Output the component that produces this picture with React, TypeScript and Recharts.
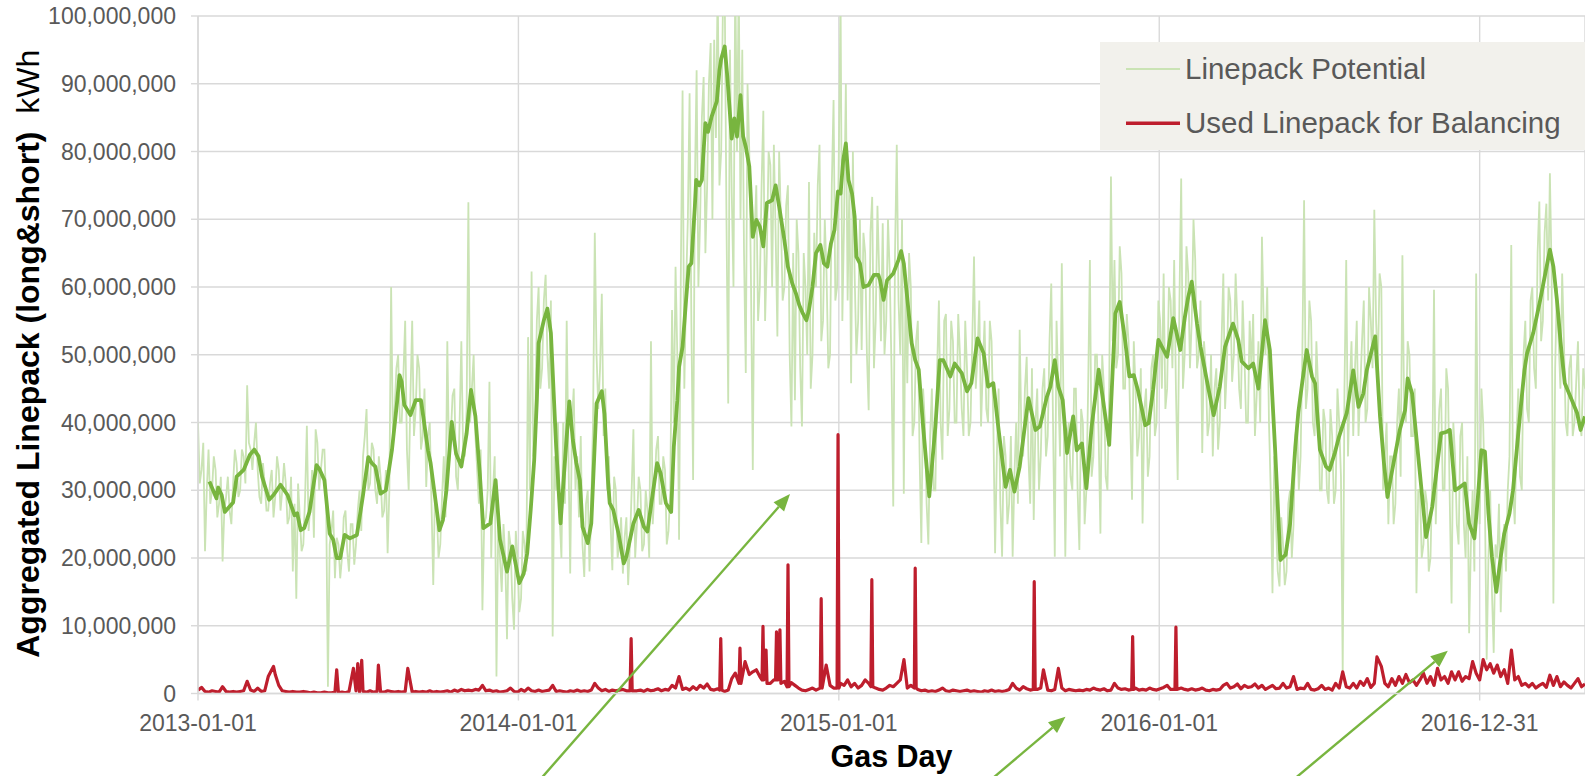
import React from 'react';
import { LineChart, Line, XAxis, YAxis, CartesianGrid, ReferenceLine } from 'recharts';

const FONT = '"Liberation Sans", Arial, Helvetica, sans-serif';

// ---------- axes ----------
const xTickDays = [0, 365, 730, 1095, 1460];
const xTickLabels = ['2013-01-01', '2014-01-01', '2015-01-01', '2016-01-01', '2016-12-31'];
const xDomainEnd = 1580;
const yTicks = [0, 10, 20, 30, 40, 50, 60, 70, 80, 90, 100];
const yMinorTicks = [0, 2, 4, 6, 8, 10, 12, 14, 16, 18, 20, 22, 24, 26, 28, 30, 32, 34, 36, 38, 40, 42, 44, 46, 48, 50, 52, 54, 56, 58, 60, 62, 64, 66, 68, 70, 72, 74, 76, 78, 80, 82, 84, 86, 88, 90, 92, 94, 96, 98, 100];

// ---------- series names ----------
const seriesNames = ['Linepack Potential', 'Used Linepack for Balancing'];

// ---------- Linepack Potential (million kWh) ----------
// gas days 0, 4, 8, ... (from 2013-01-01)
const potentialStepDays = 4;
const potentialValues = [
  40, 33, 21, 36, 30, 33, 28, 19.5, 29, 27,
  31, 34, 30, 35, 45.5, 36, 37, 33, 28, 31,
  27, 33, 29, 33, 30, 31, 26, 18, 14, 26,
  22, 39.5, 28, 23, 37, 33, 36, 1, 24, 17,
  22, 20, 27, 18, 25, 22, 30, 35, 42, 31,
  36, 28, 32, 27, 20.7, 60, 42, 50, 40, 55,
  30, 55, 42, 48, 38, 30.5, 40, 16, 27, 22,
  35, 52, 38, 45, 30, 52, 35, 72.5, 45, 38,
  28, 12.3, 26, 46, 30, 2.5, 20, 25, 8, 22,
  9.4, 20, 14, 22, 52.6, 62.3, 40, 60, 48, 61.8,
  45, 8.4, 30, 26, 40, 55, 17.7, 45, 35, 38,
  17.2, 30, 28, 68, 42, 59, 45, 35, 18.2, 30,
  22, 17.7, 26, 22, 39, 25, 30, 22, 27, 52,
  30, 38, 28, 33, 24, 56.6, 63, 22.7, 89, 60,
  88.6, 31.5, 92, 70, 91, 75, 96, 96.5, 105, 80,
  104, 42.8, 74, 106, 105, 95, 47.3, 80, 33, 75,
  60, 86, 65, 78, 81, 52.7, 70, 60, 75, 39.4,
  43.3, 65, 39.4, 60, 75.5, 50, 60, 81, 55, 62,
  50, 87.6, 60, 102, 70, 58, 45.8, 62, 55, 50.7,
  65, 41.8, 73.3, 55, 62, 69.4, 55, 62, 27.6, 81,
  50, 29.5, 45.8, 60, 40, 55, 22.2, 40, 22, 45,
  30, 58, 34.5, 56, 42, 52, 40, 50, 38, 48,
  40, 64.5, 50, 39.4, 55, 40, 52, 20.7, 45, 20.2,
  35, 28, 20.2, 40, 53.7, 35, 49.7, 28, 25.6, 45,
  35, 48, 38, 60.5, 20.2, 45, 63.5, 20.2, 40, 30,
  45, 21.2, 40, 30, 64, 35, 50, 23.6, 45, 30,
  76.3, 64, 50, 62, 45, 52, 28.6, 45, 38, 25.1,
  45, 35, 50, 40, 55, 62, 45, 58, 64, 31.5,
  76, 50, 62, 55, 64, 50, 35.5, 48, 40, 35,
  48, 40, 62, 48, 58, 50, 55, 42, 50, 40,
  48, 38, 52, 67.4, 50, 40, 14.8, 25, 15.8, 22,
  18, 30, 25, 40, 35, 72.8, 45, 55, 38, 45,
  30, 40, 28, 38, 30, 40, 3, 64, 45, 38,
  55, 45, 58, 42, 55, 71.4, 48, 60, 35, 25,
  35, 28, 45, 64.7, 40, 50, 38, 14.8, 30, 22,
  28, 20, 59.6, 35, 45, 30, 45, 13.3, 35, 22,
  40, 20, 8.9, 30, 62, 25, 40, 5, 30, 6,
  20, 12, 25, 30, 66.2, 25, 45, 30, 55, 40,
  60, 45, 72.6, 55, 72.3, 76.8, 13.3, 60, 45, 52,
  38, 50, 40, 52, 38, 45,
];
// gas days 2, 6, 10, ... (the days in between)
const potentialMidOffsetDays = 2;
const potentialMidValues = [
  31, 37, 30, 28, 35, 26, 32, 27, 32, 25,
  36, 29, 36, 31, 37, 33, 40, 29, 34, 27,
  31, 26, 35, 27, 34, 25, 32, 28, 31, 21,
  29, 24, 33, 39, 30, 36, 28, 22, 27, 23,
  17, 26, 21, 25, 19, 27, 24, 38, 30, 37,
  30, 35, 26, 33, 30, 38, 48, 40, 47, 36,
  44, 38, 50, 36, 45, 38, 28, 30, 20, 29,
  26, 34, 44, 32, 40, 36, 42, 40, 50, 33,
  36, 25, 30, 20, 35, 25, 15, 20, 24, 14,
  24, 12, 24, 18, 30, 35, 55, 45, 58, 50,
  58, 35, 40, 20, 28, 35, 40, 30, 26, 22,
  28, 18, 40, 50, 48, 38, 30, 25, 32, 20,
  26, 23, 16, 30, 20, 32, 21, 30, 20, 25,
  36, 28, 35, 22, 30, 40, 50, 62, 45, 70,
  55, 75, 60, 85, 65, 90, 70, 82, 75, 102,
  70, 95, 60, 80, 70, 65, 90, 60, 68, 55,
  75, 55, 80, 60, 68, 80, 58, 72, 50, 65,
  70, 48, 65, 50, 45, 68, 75, 52, 70, 48,
  75, 58, 80, 55, 90, 75, 80, 50, 70, 68,
  50, 68, 48, 72, 52, 50, 70, 48, 65, 58,
  70, 60, 65, 38, 52, 35, 45, 28, 38, 30,
  48, 40, 55, 38, 55, 40, 56, 42, 55, 38,
  52, 45, 58, 48, 42, 55, 40, 35, 28, 38,
  25, 38, 32, 28, 38, 45, 35, 48, 40, 30,
  45, 35, 52, 40, 55, 35, 42, 38, 32, 45,
  30, 42, 25, 45, 32, 50, 38, 50, 32, 45,
  52, 48, 66, 45, 56, 40, 52, 35, 48, 42,
  32, 48, 38, 58, 45, 42, 60, 48, 45, 58,
  45, 66, 48, 70, 48, 58, 52, 38, 50, 45,
  36, 52, 42, 60, 46, 62, 45, 58, 40, 55,
  56, 44, 40, 55, 60, 30, 35, 18, 26, 16,
  28, 20, 38, 30, 50, 42, 58, 40, 52, 30,
  42, 30, 42, 28, 45, 32, 45, 35, 52, 48,
  38, 52, 40, 60, 48, 55, 62, 30, 40, 35,
  25, 40, 32, 42, 52, 38, 45, 30, 20, 30,
  18, 32, 25, 42, 30, 48, 28, 40, 25, 38,
  25, 35, 22, 18, 35, 45, 28, 20, 15, 22,
  28, 22, 18, 35, 30, 38, 32, 50, 42, 58,
  48, 65, 52, 68, 58, 62, 48, 52, 62, 40,
  48, 38, 46, 40, 48,
];

// ---------- smoothed Linepack Potential (dark green), gas day -> million kWh ----------
const trendDays = [
  13, 21, 23, 27, 30.5, 40, 44, 52, 59, 64, 69, 73, 81, 86, 94, 102, 110, 113, 117, 121,
  127, 131, 135, 138, 144, 150, 154, 158, 162, 167, 173, 181, 188, 194, 198, 202, 208, 214, 221, 227,
  229.5, 232, 235, 242, 248, 254, 262, 265, 275, 279, 283, 289, 294, 300, 306, 311, 316, 321, 325, 333,
  339, 344, 352, 358, 366, 371, 375, 379, 383, 386, 388, 394, 398, 402, 408, 413, 417, 423, 427, 431,
  435, 438, 444, 448, 454, 460, 463, 467, 469, 473, 479, 485, 488, 496, 502, 508, 512, 517, 523, 527,
  533, 539, 542, 546, 548, 552, 556, 559, 562, 566, 567.5, 571, 574, 575.5, 578, 581, 585, 591, 594, 596,
  600, 603, 608, 611, 614, 618, 621, 624, 628, 632, 636, 640, 644, 648, 654, 658, 662, 668, 672, 677,
  681, 685, 689, 693, 696, 700, 704, 709, 713, 717, 721, 725, 729, 732, 735, 738, 741, 745, 748, 750,
  754, 758, 764, 770, 775, 777, 781, 785, 792, 798, 801, 804, 807, 813, 817, 821, 826, 833, 840, 845,
  849, 857, 862, 870, 876, 881, 888, 895, 900, 906, 912, 920, 925, 930, 936, 946, 954, 959, 967, 971,
  976, 980, 985, 990, 997, 1001, 1007, 1012, 1018, 1026, 1031, 1038, 1045, 1050, 1056, 1061, 1066, 1071, 1079, 1083,
  1088, 1094, 1104, 1111, 1119, 1124, 1128, 1132, 1138, 1142, 1151, 1157, 1164, 1170, 1179, 1185, 1189, 1196.5, 1202, 1208,
  1215.5, 1221, 1227, 1233, 1239, 1244, 1250, 1253.5, 1258, 1263, 1269, 1272.5, 1278, 1285, 1289, 1295, 1300, 1308.6, 1316, 1322,
  1327.5, 1331.4, 1341, 1346.5, 1351, 1355, 1359, 1369, 1375, 1378, 1383, 1389, 1399, 1406, 1416, 1422, 1426, 1432, 1438, 1443,
  1448, 1454, 1458, 1462, 1466, 1470, 1474, 1479, 1484, 1488, 1494, 1498, 1504, 1508, 1511, 1514, 1521, 1529, 1540, 1544,
  1548, 1553, 1557, 1565, 1571, 1575, 1580,
];
const trendValues = [
  31.3, 28.8, 30.4, 29.3, 26.8, 28.2, 32, 33, 35.2, 36, 35, 32, 28.6, 29.3, 30.8, 29.3, 26.3, 26.6, 24.1, 24.4,
  26.8, 30.3, 33.7, 33.2, 31.5, 23.6, 22.7, 20, 20, 23.4, 22.9, 23.4, 29.3, 34.9, 34, 33.5, 29.5, 30, 36, 43.3,
  47, 46, 42.6, 41.1, 43.3, 43.3, 35.9, 34, 24.1, 25.6, 30, 40.1, 35.4, 33.5, 38.4, 44.8, 40.9, 32.5, 24.4, 25.1,
  31.5, 22.7, 18, 21.7, 16.3, 17.7, 20.7, 27.1, 34.5, 43.3, 51.7, 55.1, 56.8, 53.2, 36.4, 25.1, 32.5, 43.1, 37.4, 34,
  31.5, 24.6, 22.2, 25.1, 42.8, 44.6, 41.3, 31.5, 28.1, 27.1, 23.6, 19.2, 20.2, 25.1, 27.1, 24.6, 23.9, 28.6, 34, 32.5,
  28.1, 26.8, 36.4, 43.3, 48.2, 51.2, 58.1, 63, 63.5, 71.9, 75.8, 75, 75.8, 79.2, 84.2, 82.9, 85.1, 87.4, 92, 93.7,
  95.5, 91, 81.9, 84.9, 82.2, 88.3, 82.2, 80.7, 77.8, 67.4, 69.9, 68.9, 66, 72.4, 72.8, 75, 71.9, 66.9, 63, 60.5,
  59.1, 57.3, 56.1, 55.1, 56.6, 60, 65, 66.2, 63.5, 63, 66.4, 68.4, 74.1, 73.8, 78.7, 81.2, 75.8, 73.8, 70.4, 64.5,
  63.5, 60, 60.3, 61.8, 61.8, 61, 58.1, 61, 62, 64, 65.3, 63.5, 59.6, 51.7, 49.2, 47.8, 39.4, 29.1, 39.4, 49.2,
  49.2, 46.8, 48.7, 47.3, 44.6, 45.8, 52.4, 50.2, 45.3, 45.8, 38.9, 30.5, 33, 29.8, 33.5, 43.6, 38.9, 39.4, 43.8, 45.3,
  49.2, 45.3, 43.3, 35.5, 40.9, 35.9, 36.9, 30.3, 39.4, 47.8, 43.3, 36.7, 56.1, 57.8, 52.2, 46.8, 47, 44.6, 39.6, 39.9,
  44.8, 52.2, 49.7, 55.4, 50.7, 55.4, 58.5, 60.8, 54.6, 51.2, 45, 41.1, 45.3, 51.2, 54.6, 52.2, 49, 48, 48.7, 45,
  55.1, 50.7, 36, 19.7, 20.5, 25, 36.4, 41.6, 46, 50.7, 46.8, 45.8, 36, 33.5, 33, 35.5, 38, 41.4, 47.7, 42.3,
  44.3, 47.7, 52.7, 40.9, 34, 29, 32, 38.9, 41.8, 46.5, 44.3, 36.4, 23.1, 27.6, 38.4, 38.6, 38.9, 30, 30.5, 31,
  25.1, 22.9, 29, 35.9, 35.7, 26.6, 20.2, 15, 20.2, 23.6, 26.6, 30, 38.4, 43.8, 47.7, 50.2, 53.2, 58.1, 65.5, 63,
  58.1, 50.7, 45.8, 43.3, 41.4, 38.9, 40.9,
];

// ---------- Used Linepack for Balancing (million kWh) ----------
const usedStepDays = 4;
const usedBaseValues = [
  0.5, 0.9, 0.3, 0.2, 0.4, 0.3, 0.2, 1.0, 0.3, 0.2,
  0.3, 0.2, 0.3, 0.4, 1.8, 0.5, 0.3, 0.8, 0.3, 0.4,
  2.5, 3.5, 2.8, 1.2, 0.4, 0.3, 0.2, 0.3, 0.2, 0.2,
  0.3, 0.2, 0.1, 0.2, 0.1, 0.1, 0.2, 0.1, 0.1, 0.2,
  0.1, 0.2, 0.1, 0.3, 0.2, 0.4, 0.2, 0.3, 0.2, 0.4,
  0.2, 0.3, 0.2, 0.2, 0.4, 0.3, 0.2, 0.3, 0.2, 0.3,
  0.4, 0.2, 0.3, 0.2, 0.3, 0.2, 0.4, 0.2, 0.3, 0.2,
  0.3, 0.4, 0.2, 0.5, 0.3, 0.6, 0.4, 0.5, 0.4, 0.6,
  0.5, 1.2, 0.4, 0.5, 0.3, 0.4, 0.2, 0.3, 0.4, 0.8,
  0.3, 0.2, 0.6, 0.3, 0.8, 0.4, 0.3, 0.5, 0.3, 0.4,
  0.5, 1.2, 0.3, 0.4, 0.3, 0.2, 0.4, 0.3, 0.5, 0.3,
  0.4, 0.3, 0.5, 1.5, 0.8, 0.4, 0.6, 0.3, 0.5, 0.4,
  0.5, 0.6, 0.4, 0.7, 0.3, 0.4, 0.5, 0.3, 0.6, 0.4,
  0.5, 0.7, 0.4, 0.6, 0.5, 1.2, 0.8, 2.5, 0.6, 0.8,
  0.5, 1.0, 0.6, 1.2, 0.8, 1.4, 0.6, 0.5, 0.7, 0.4,
  0.3, 0.5, 2.2, 3.0, 1.5, 2.5, 1.2, 2.8, 3.2, 3.5,
  2.5, 3.5, 2.0, 1.5, 2.0, 2.8, 3.0, 1.8, 2.2, 1.6,
  1.2, 0.8, 0.5, 0.4, 0.6, 0.8, 0.5, 1.5, 2.0, 2.5,
  1.2, 0.8, 1.0, 1.5, 1.2, 2.0, 1.0, 1.5, 0.8, 1.2,
  2.0, 1.5, 1.0, 0.8, 0.6, 0.5, 0.8, 1.2, 1.0, 1.5,
  2.0, 1.5, 0.8, 1.2, 1.0, 0.6, 0.4, 0.5, 0.3, 0.4,
  0.3, 0.5, 0.8, 0.4, 0.3, 0.5, 0.4, 0.3, 0.4, 0.5,
  0.3, 0.4, 0.3, 0.2, 0.4, 0.3, 0.5, 0.3, 0.4, 0.3,
  0.4, 0.6, 1.5, 0.8, 0.5, 1.0, 0.7, 0.5, 0.8, 0.6,
  0.8, 1.5, 0.5, 0.4, 0.6, 0.5, 0.8, 0.4, 0.6, 0.5,
  0.4, 0.5, 0.4, 0.6, 0.5, 0.8, 0.6, 0.5, 0.7, 0.4,
  0.5, 1.5, 0.8, 0.6, 0.7, 0.5, 0.6, 0.8, 0.5, 0.6,
  0.5, 0.8, 0.6, 0.5, 0.7, 0.9, 1.2, 0.6, 0.8, 0.5,
  0.8, 0.6, 0.5, 0.7, 0.5, 0.6, 0.8, 0.5, 0.4, 0.6,
  0.5, 0.6, 1.2, 1.5, 0.8, 1.0, 1.4, 0.7, 1.2, 0.9,
  1.0, 1.4, 0.8, 1.2, 0.6, 0.9, 1.2, 0.7, 0.8, 1.5,
  0.8, 1.0, 2.5, 0.6, 0.8, 0.7, 1.5, 0.6, 0.5, 0.7,
  1.2, 0.6, 0.8, 0.5, 1.5, 0.8, 3.2, 1.0, 0.8, 1.5,
  0.8, 1.8, 1.2, 2.2, 0.9, 1.5, 2.5, 4.0, 1.5, 1.0,
  2.2, 1.2, 2.5, 1.5, 2.8, 1.6, 2.0, 1.2, 2.0, 3.0,
  1.5, 2.5, 1.2, 3.7, 2.0, 2.5, 1.5, 3.2, 2.0, 3.2,
  1.8, 2.5, 2.2, 4.7, 3.0, 2.0, 5.0, 3.5, 4.4, 3.0,
  4.2, 2.5, 3.5, 1.5, 2.5, 2.0, 2.5, 1.2, 1.5, 1.0,
  1.5, 0.8, 1.2, 1.5, 0.9, 2.7, 1.2, 2.5, 1.0, 1.7,
  1.2, 0.8, 1.5, 2.2, 1.0, 1.4,
];
// single-day balancing peaks (with the low days right next to the big ones)
const usedSpikeDays = [
  86, 158, 177, 182, 186.5, 205.5, 239,
  492.2, 493.4, 494.6, 594.3, 595.5, 596.7, 616.3, 617.4, 618.5, 623.2,
  642.5, 643.6, 644.6, 647.1, 648.2, 657.9, 659, 660.5, 662.9, 664,
  671, 672.1, 673.2, 708.8, 709.9, 711, 715.6, 728, 729.1, 730.2,
  766.5, 767.6, 768.7, 804.2, 816, 817, 818.1,
  951.5, 952.6, 953.7, 963.1, 980.1, 1063.6, 1064.7, 1065.8, 1112.9, 1114, 1115.1,
  1343, 1496.2,
];
const usedSpikeValues = [
  4.0, 3.5, 3.7, 4.4, 4.9, 4.2, 3.7,
  0.4, 8.1, 0.4, 0.5, 8.1, 0.5, 1.5, 6.7, 1.5, 4.7,
  2.0, 9.9, 2.0, 6.4, 1.5, 2.0, 9.1, 2.0, 9.4, 1.5,
  1.0, 19.0, 1.0, 0.8, 14.0, 0.8, 4.2, 0.8, 38.2, 0.8,
  1.0, 16.8, 1.0, 5.0, 0.8, 18.5, 0.8,
  0.6, 16.5, 0.6, 3.5, 3.7, 0.6, 8.4, 0.6, 0.6, 9.8, 0.6,
  5.4, 6.4,
];

// ---------- annotation arrows (gas day, million kWh) ----------
const arrowTailDays = [379.4, 889.5, 1233.9];
const arrowTailValues = [-14.24, -14.24, -14.24];
const arrowTipDays = [674.4, 988.2, 1423.7];
const arrowTipValues = [29.45, -3.42, 6.32];

// ---------- colours ----------
const COLOR_POTENTIAL = '#cae3b4';
const COLOR_TREND = '#78b53f';
const COLOR_USED = '#be1e2d';
const COLOR_GRID = '#d9d9d9';
const COLOR_TEXT = '#595959';

// ---------- tables for the library ----------
const potentialData = [
  ...potentialValues.map((v, i) => ({ day: i * potentialStepDays, v })),
  ...potentialMidValues.map((v, i) => ({ day: i * potentialStepDays + potentialMidOffsetDays, v })),
].sort((a, b) => a.day - b.day);
const trendData = trendDays.map((d, i) => ({ day: d, v: trendValues[i] }));
const usedData = (() => {
  const spikes = usedSpikeDays.map((d, i) => ({ day: d, v: usedSpikeValues[i] }));
  const base = usedBaseValues
    .map((v, i) => ({ day: i * usedStepDays, v }))
    .filter((p) => !usedSpikeDays.some((d) => Math.abs(d - p.day) < 1.5));
  return [...base, ...spikes].sort((a, b) => a.day - b.day);
})();

const fmtMillions = (v: number) => String(Math.round(v * 1000000)).replace(/\B(?=(\d{3})+(?!\d))/g, ',');
const fmtDay = (d: number) => {
  const i = xTickDays.indexOf(d);
  return i >= 0 ? xTickLabels[i] : '';
};

const Arrow = (p: any) => {
  const { x1, y1, x2, y2 } = p;
  if ([x1, y1, x2, y2].some((n) => typeof n !== 'number' || isNaN(n))) return null;
  const dx = x2 - x1;
  const dy = y2 - y1;
  const len = Math.hypot(dx, dy) || 1;
  const ux = dx / len;
  const uy = dy / len;
  const hl = 17;
  const hw = 7;
  const bx = x2 - ux * hl;
  const by = y2 - uy * hl;
  return (
    <g>
      <line x1={x1} y1={y1} x2={bx} y2={by} stroke={COLOR_TREND} strokeWidth={2.4} />
      <polygon
        points={`${x2},${y2} ${bx - uy * hw},${by + ux * hw} ${bx + uy * hw},${by - ux * hw}`}
        fill={COLOR_TREND}
      />
    </g>
  );
};

const YTitle = (props: any) => {
  const vb = props.viewBox || { x: 0, y: 16, width: 198, height: 677.5 };
  const x = vb.x + 39;
  const y = vb.y + vb.height / 2 - 1;
  return (
    <text
      x={x}
      y={y}
      transform={`rotate(-90, ${x}, ${y})`}
      textAnchor="middle"
      fontFamily={FONT}
      fontSize={32}
      fill="#000"
    >
      <tspan fontWeight="bold">Aggregated Linepack (long&amp;short)</tspan>
      <tspan fontWeight="normal">{'\u00a0\u00a0kWh'}</tspan>
    </text>
  );
};

const XTitle = (props: any) => {
  const vb = props.viewBox || { x: 198, y: 693.5, width: 1387, height: 106.5 };
  return (
    <text
      x={vb.x + vb.width / 2}
      y={vb.y + 73}
      textAnchor="middle"
      fontFamily={FONT}
      fontSize={30.5}
      fontWeight="bold"
      fill="#000"
    >
      Gas Day
    </text>
  );
};

const LegendBox = () => (
  <div
    style={{
      position: 'absolute',
      left: 1100,
      top: 42,
      width: 485,
      height: 108,
      background: '#f2f1ec',
    }}
  >
    <svg width={485} height={108} style={{ display: 'block' }}>
      <line x1={26} y1={27} x2={80} y2={27} stroke={COLOR_POTENTIAL} strokeWidth={2.2} />
      <text x={85} y={37} fontFamily={FONT} fontSize={29.5} fill={COLOR_TEXT}>
        {seriesNames[0]}
      </text>
      <line x1={26} y1={81.3} x2={80} y2={81.3} stroke={COLOR_USED} strokeWidth={3.5} />
      <text x={85} y={91.3} fontFamily={FONT} fontSize={29.5} fill={COLOR_TEXT}>
        {seriesNames[1]}
      </text>
    </svg>
  </div>
);

export default function App() {
  return (
    <div
      style={{
        position: 'absolute',
        left: 0,
        top: 0,
        width: 1585,
        height: 776,
        overflow: 'hidden',
        background: '#fff',
      }}
    >
      <LineChart width={1600} height={800} margin={{ top: 16, right: 15, bottom: 0, left: 0 }}>
        <CartesianGrid
          yAxisId="main"
          stroke={COLOR_GRID}
          strokeWidth={1.4}
          horizontal
          vertical
        />
        <XAxis
          dataKey="day"
          type="number"
          domain={[0, xDomainEnd]}
          allowDataOverflow
          ticks={xTickDays}
          tickFormatter={fmtDay}
          height={106.5}
          tickSize={7}
          tickMargin={14.5}
          axisLine={{ stroke: COLOR_GRID, strokeWidth: 1.4 }}
          tickLine={{ stroke: COLOR_GRID, strokeWidth: 1.4 }}
          tick={{ fontFamily: FONT, fontSize: 23, fill: COLOR_TEXT }}
          interval={0}
          label={<XTitle />}
        />
        <YAxis
          yAxisId="main"
          type="number"
          domain={[0, 100]}
          allowDataOverflow
          ticks={yTicks}
          tickFormatter={fmtMillions}
          width={198}
          tickSize={7}
          tickMargin={15}
          axisLine={{ stroke: COLOR_GRID, strokeWidth: 1.4 }}
          tickLine={{ stroke: COLOR_GRID, strokeWidth: 1.4 }}
          tick={{ fontFamily: FONT, fontSize: 23, fill: COLOR_TEXT }}
          interval={0}
          label={<YTitle />}
        />
        <YAxis
          yAxisId="minor"
          type="number"
          domain={[0, 100]}
          allowDataOverflow
          ticks={yMinorTicks}
          mirror
          tick={false}
          tickSize={6}
          axisLine={false}
          tickLine={{ stroke: COLOR_GRID, strokeWidth: 1.4 }}
          interval={0}
        />
        <Line
          yAxisId="main"
          data={potentialData}
          dataKey="v"
          type="linear"
          stroke={COLOR_POTENTIAL}
          strokeWidth={1.8}
          dot={false}
          activeDot={false}
          isAnimationActive={false}
        />
        <Line
          yAxisId="main"
          data={trendData}
          dataKey="v"
          type="linear"
          stroke={COLOR_TREND}
          strokeWidth={3.8}
          strokeLinejoin="round"
          dot={false}
          activeDot={false}
          isAnimationActive={false}
        />
        <Line
          yAxisId="main"
          data={usedData}
          dataKey="v"
          type="linear"
          stroke={COLOR_USED}
          strokeWidth={3.2}
          strokeLinejoin="round"
          dot={false}
          activeDot={false}
          isAnimationActive={false}
        />
        {arrowTipDays.map((d, i) => (
          <ReferenceLine
            key={`arrow-${i}`}
            yAxisId="main"
            ifOverflow="visible"
            segment={[
              { x: arrowTailDays[i], y: arrowTailValues[i] },
              { x: d, y: arrowTipValues[i] },
            ]}
            shape={Arrow}
          />
        ))}
      </LineChart>
      <LegendBox />
    </div>
  );
}
